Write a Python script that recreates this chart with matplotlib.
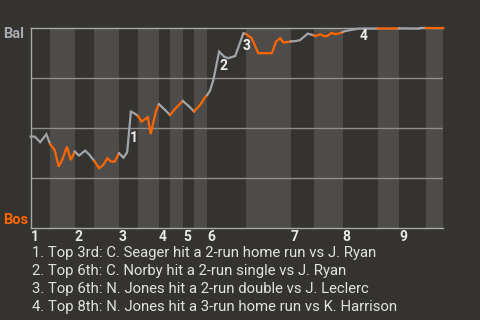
import matplotlib
matplotlib.use('Agg')
import matplotlib.pyplot as plt

plt.rcParams['font.family'] = ['Roboto', 'DejaVu Sans']

# game progress (0-100) and Bal win probability (%)
progress = [0, 1.0, 2.3, 3.8, 4.7, 5.8, 6.8, 7.7, 8.8, 9.7, 10.7, 11.7, 13.2, 14.3,
            15.4, 16.6, 17.6, 18.6, 19.5, 20.4, 21.4, 22.5, 23.4, 24.3, 25.1, 26.0,
            26.9, 27.7, 28.4, 29.1, 29.7, 30.4, 31.1, 32.4, 33.8, 35.2, 36.9, 38.3,
            39.6, 41.1, 42.3, 42.8, 43.5, 44.3, 45.7, 46.9, 47.9, 49.6, 51.6, 52.2,
            53.6, 55.2, 58.5, 59.5, 60.5, 61.3, 63.1, 64.1, 65.3, 67.2, 68.7, 69.1,
            70.2, 71.2, 71.9, 73.0, 74.0, 75.4, 75.7, 76.1, 79.5, 84.2, 89.3, 94.2,
            94.4, 95.8, 100]
bal_wp = [45.7, 45.7, 42.9, 46.9, 42.0, 39.0, 30.7, 34.4, 40.7, 34.0, 38.2, 36.2, 38.7, 36.5,
          33.5, 29.9, 31.5, 34.9, 33.2, 33.2, 37.4, 35.2, 37.9, 58.2, 57.4, 56.0,
          53.2, 54.4, 55.4, 47.0, 52.4, 58.5, 61.9, 59.4, 56.5, 60.0, 63.5, 61.0,
          58.3, 61.5, 65.4, 66.5, 68.7, 74.0, 88.2, 85.7, 84.9, 86.0, 97.4, 97.0,
          94.9, 87.4, 87.4, 93.2, 94.9, 92.7, 93.3, 93.4, 93.9, 97.2, 96.3, 95.9,
          96.9, 95.9, 96.0, 97.5, 96.9, 97.7, 98.0, 98.4, 99.7, 99.7, 99.8, 99.7,
          100, 100, 100]

# half-inning boundaries (top, bottom, top, ...)
half_innings = [0, 4.7, 10.7, 15.4, 21.4, 26.0, 31.1, 33.8, 36.9, 39.6, 42.8,
                52.2, 63.1, 68.7, 75.7, 84.2, 89.3, 95.8, 100]
innings = ['1', '2', '3', '4', '5', '6', '7', '8', '9']

events = [('1', 25.1, 45), ('2', 46.7, 81), ('3', 52.4, 91), ('4', 80.7, 96)]
notes = ['1. Top 3rd: C. Seager hit a 2-run home run vs J. Ryan',
         '2. Top 6th: C. Norby hit a 2-run single vs J. Ryan',
         '3. Top 6th: N. Jones hit a 2-run double vs J. Leclerc',
         '4. Top 8th: N. Jones hit a 3-run home run vs K. Harrison']

bg = '#353330'
band = '#4d4c4a'
gray = '#a0a5a9'
orange = '#ff6600'

fig = plt.figure(figsize=(4.8, 3.2), dpi=100, facecolor=bg)
ax = fig.add_axes([30.7 / 480, 1 - 228 / 320, (443 - 30.7) / 480, 200 / 320])
ax.set_facecolor(bg)

for i in range(len(half_innings) - 1):
    lo, hi = half_innings[i], half_innings[i + 1]
    if i % 2 == 1:
        ax.axvspan(lo, hi, color=band, lw=0, zorder=0)
    xs = [x for x in progress if lo <= x <= hi]
    ys = [bal_wp[progress.index(x)] for x in xs]
    ax.plot(xs, ys, color=gray if i % 2 == 0 else orange, lw=1.6,
            solid_joinstyle='miter', clip_on=False, zorder=3)

for y in [25, 50, 75]:
    ax.axhline(y, color='#8e8d8b', lw=1, zorder=1)

ax.set_xlim(0, 100)
ax.set_ylim(0, 100)
ax.spines['right'].set_visible(False)
for s in ['top', 'left', 'bottom']:
    ax.spines[s].set_color('#a8a8a8')
    ax.spines[s].set_linewidth(1)
ax.set_yticks([])
ax.set_xticks(half_innings[0:-1:2], innings)
ax.tick_params(axis='x', length=0, pad=1.5, labelsize=10, labelcolor='#e8e8e8')
for lab in ax.get_xticklabels():
    lab.set_ha('left')
    lab.set_fontweight('bold')

for label, x, y in events:
    ax.text(x, y, label, color='#f0f0f0', fontsize=10, fontweight='bold',
            ha='center', va='center', zorder=4)

fig.text(3 / 480, 1 - 34 / 320, 'Bal', color='#a6abaf', fontsize=10.5, fontweight='bold',
         ha='left', va='center')
fig.text(3 / 480, 1 - 220 / 320, 'Bos', color=orange, fontsize=10.5, fontweight='bold',
         ha='left', va='center')

for i, line in enumerate(notes):
    fig.text(32 / 480, 1 - (253 + 18 * i) / 320, line, color='#e2e2e2',
             fontsize=10.7, ha='left', va='center')

plt.savefig('out.png', dpi=100, facecolor=bg)
